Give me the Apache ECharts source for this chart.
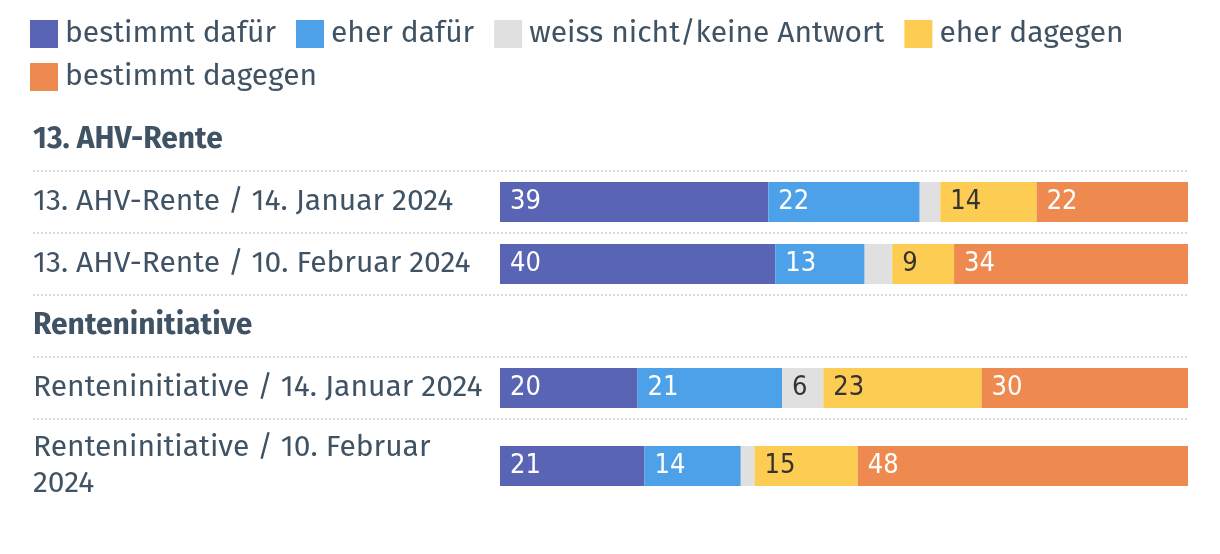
<!DOCTYPE html>
<html>
<head>
<meta charset="utf-8">
<script src="https://cdn.jsdelivr.net/npm/echarts@6/dist/echarts.min.js"></script>
<style>html,body{margin:0;padding:0;background:#fff}#c{width:1220px;height:554px}</style>
</head>
<body>
<div id="c"></div>
<script>
// ---- data ----
const groups = ['13. AHV-Rente', 'Renteninitiative'];
const categories = [
  '13. AHV-Rente / 14. Januar 2024',
  '13. AHV-Rente / 10. Februar 2024',
  'Renteninitiative / 14. Januar 2024',
  'Renteninitiative / 10. Februar 2024'
];
const seriesNames = ['bestimmt dafür', 'eher dafür', 'weiss nicht/keine Antwort', 'eher dagegen', 'bestimmt dagegen'];
const bestimmtDafuer  = [39, 40, 20, 21];
const eherDafuer      = [22, 13, 21, 14];
const weissNicht      = [3, 4, 6, 2];
const eherDagegen     = [14, 9, 23, 15];
const bestimmtDagegen = [22, 34, 30, 48];

// ---- styling ----
const values = [bestimmtDafuer, eherDafuer, weissNicht, eherDagegen, bestimmtDagegen];
const colors = ['#5a64b4', '#4ca1e8', '#e0e0e0', '#fdcc52', '#ee8a4f'];
const labelColors = ['#ffffff', '#ffffff', '#333333', '#333333', '#ffffff'];
const textColor = '#405364';
const FONT = "'Fira Sans', 'Open Sans', 'Noto Sans', sans-serif";
const NUMFONT = "'Liberation Sans Narrow', 'DejaVu Sans Condensed', sans-serif";

const L = 500, R = 32;
// row layout (top, height) for each data row
const rows = [
  {top: 171, height: 62},
  {top: 233, height: 62},
  {top: 357, height: 62},
  {top: 419, height: 94}
];
const headerCenters = [140, 326];

const grids = [], xAxes = [], yAxes = [], series = [];
rows.forEach((r, i) => {
  grids.push({left: L, right: R, top: r.top, height: r.height, containLabel: false});
  xAxes.push({type: 'value', gridIndex: i, min: 0, max: 100, show: false});
  const lbl = {
    align: 'left', margin: L - 33, fontSize: 30, color: textColor,
    fontFamily: FONT, lineHeight: 36
  };
  if (i === 3) { lbl.width = 430; lbl.overflow = 'break'; }
  yAxes.push({
    type: 'category', gridIndex: i, data: [categories[i]],
    axisLine: {show: false}, axisTick: {show: false}, splitLine: {show: false},
    axisLabel: lbl
  });
  seriesNames.forEach((name, s) => {
    series.push({
      type: 'bar', name: name, xAxisIndex: i, yAxisIndex: i, stack: 'row' + i,
      barWidth: 40, itemStyle: {color: colors[s]},
      data: [values[s][i]],
      label: {
        show: true, position: 'insideLeft', distance: 10,
        color: labelColors[s], fontSize: 27, fontFamily: NUMFONT,
        formatter: p => (p.value >= 5 ? String(p.value) : '')
      },
      emphasis: {disabled: true}
    });
  });
});

// separators (dotted lines) at top/bottom of each row
const sepYs = [171, 233, 295, 357, 419];
const graphics = sepYs.map(y => ({
  type: 'line', shape: {x1: 33, y1: y, x2: 1220 - R, y2: y},
  style: {stroke: '#d9d9d9', lineWidth: 2, lineDash: [2, 2]}, silent: true
}));

const legendBase = {
  left: 30, padding: 0, itemWidth: 28, itemHeight: 28, itemGap: 20, icon: 'rect',
  textStyle: {fontSize: 30, color: textColor, fontFamily: FONT, padding: [0, 0, 0, 2]},
  selectedMode: false
};

const option = {
  animation: false,
  backgroundColor: '#ffffff',
  title: groups.map((g, i) => ({
    text: g, left: 33 - 5, top: headerCenters[i] - 22,
    textStyle: {fontSize: 30, fontWeight: 'bold', color: textColor, fontFamily: FONT, lineHeight: 34}
  })),
  legend: [
    Object.assign({}, legendBase, {top: 19, data: seriesNames.slice(0, 4)}),
    Object.assign({}, legendBase, {top: 62, data: seriesNames.slice(4)})
  ],
  grid: grids, xAxis: xAxes, yAxis: yAxes, series: series,
  graphic: graphics
};
const chart = echarts.init(document.getElementById('c'), null, {renderer: 'canvas'});
chart.setOption(option);
</script>
</body>
</html>
